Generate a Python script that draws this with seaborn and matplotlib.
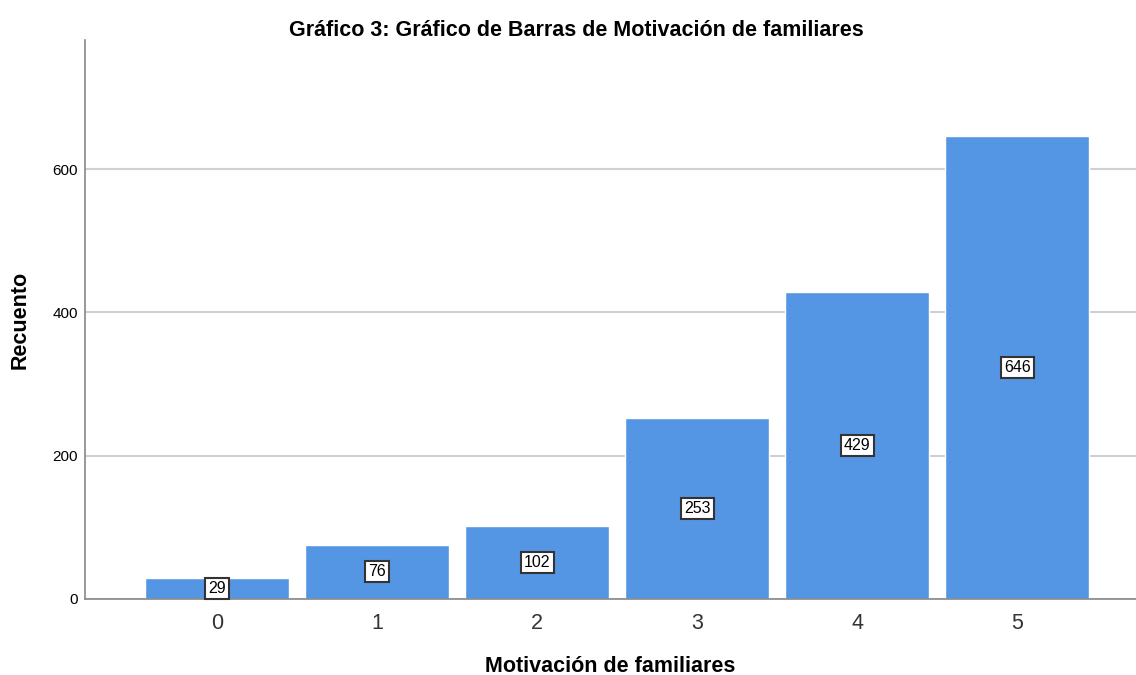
import matplotlib.pyplot as plt
import seaborn as sns
import pandas as pd

categorias = ['0', '1', '2', '3', '4', '5']
recuento = [29, 76, 102, 253, 429, 646]

df = pd.DataFrame({'Motivación de familiares': categorias, 'Recuento': recuento})

sns.set_style('white')
plt.rcParams['font.family'] = ['Liberation Sans', 'DejaVu Sans']

fig = plt.figure(figsize=(11.36, 6.75), dpi=100)
ax = fig.add_axes([0.0748, 0.1126, 0.925, 0.828])

sns.barplot(data=df, x='Motivación de familiares', y='Recuento', color='#5596E4',
            saturation=1, width=0.9, ax=ax, zorder=2)

# etiquetas en medio de cada barra, con caja blanca
for i, v in enumerate(recuento):
    ax.text(i, v / 2, str(v), ha='center', va='center', fontsize=11.5, zorder=3,
            color='black',
            bbox=dict(boxstyle='square,pad=0.2', fc='white', ec='#333333', lw=1.5))

ax.set_ylim(0, 780)
ax.set_xlim(-0.825, 5.74)
ax.set_yticks([0, 200, 400, 600])
ax.yaxis.grid(True, color='#d0d0d0', lw=1.5, zorder=0)
ax.set_axisbelow(True)
for s in ['top', 'right']:
    ax.spines[s].set_visible(False)
for s in ['left', 'bottom']:
    ax.spines[s].set_color('#888888')
    ax.spines[s].set_linewidth(1.2)
ax.tick_params(axis='y', length=0, labelsize=11, colors='black', pad=5)
ax.tick_params(axis='x', length=0, labelsize=15.5, colors='#333333', pad=10)

ax.set_title('Gráfico 3: Gráfico de Barras de Motivación de familiares',
             fontsize=15.5, fontweight='bold', pad=3, color='black', x=0.4676)
ax.set_xlabel('Motivación de familiares', fontsize=15.5, fontweight='bold',
              labelpad=16, color='black')
ax.set_ylabel('Recuento', fontsize=15.5, fontweight='bold', labelpad=16, color='black')

fig.savefig('out.png', dpi=100)
